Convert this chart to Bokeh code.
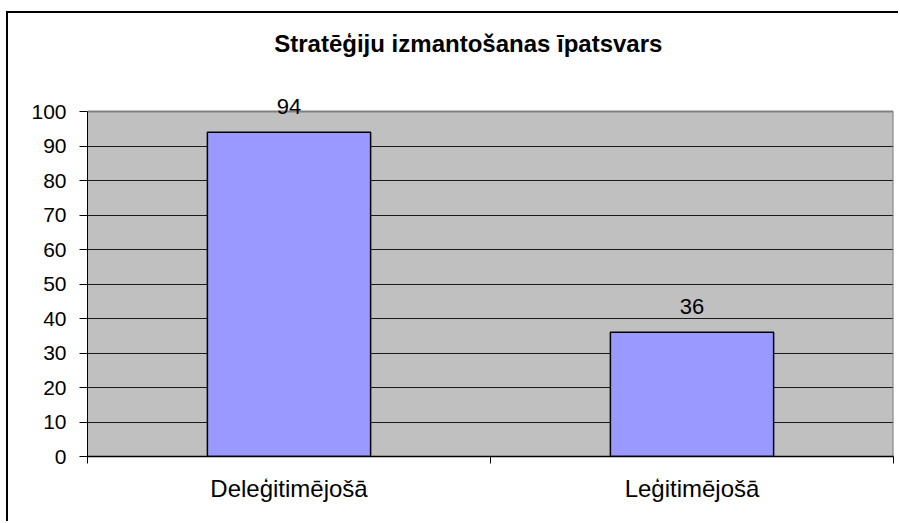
from bokeh.plotting import figure
from bokeh.models import (Range1d, FixedTicker, ColumnDataSource, LabelSet, Label,
                          BoxAnnotation)
from bokeh.core.properties import value
from bokeh.embed import file_html
from bokeh.resources import INLINE

# ---- data ----
categories = ["Deleģitimējošā", "Leģitimējošā"]
values = [94, 36]
y_ticks = [0, 10, 20, 30, 40, 50, 60, 70, 80, 90, 100]
title_text = "Stratēģiju izmantošanas īpatsvars"

FONT = "Liberation Sans"
n = len(categories)
y_max = y_ticks[-1]

xs = [i + 0.5 for i in range(n)]
src = ColumnDataSource(dict(x=xs, top=values, label=[str(v) for v in values]))

# plot area 345px tall for 0..100 -> extend the range upward to leave room for title
px_per_unit = 345 / y_max
y_top = 443 / px_per_unit

p = figure(width=892, height=510, output_backend="svg", toolbar_location=None,
           x_range=Range1d(0, n), y_range=Range1d(0, y_top),
           min_border_left=79, min_border_right=7, min_border_top=0,
           min_border_bottom=67)
p.styles = {"margin-left": "6px", "margin-top": "11px",
            "border-left": "2px solid black", "border-top": "2px solid black"}

p.background_fill_color = "white"
p.border_fill_color = "white"
p.outline_line_color = None

# plot-area background (0..100)
p.add_layout(BoxAnnotation(left=0, right=n, bottom=0, top=y_max,
                           fill_color="#C0C0C0", fill_alpha=1,
                           line_color=None, level="image"))

# grid
p.xgrid.grid_line_color = None
p.ygrid.ticker = FixedTicker(ticks=y_ticks[:-1])
p.ygrid.grid_line_color = "#1a1a1a"
p.ygrid.grid_line_width = 1

# plot-area border (top and right)
p.segment(x0=[0, n], y0=[y_max, 0], x1=[n, n], y1=[y_max, y_max],
          line_color="#808080", line_width=2)

# bars
p.vbar(x="x", top="top", width=0.405, bottom=0, source=src,
       fill_color="#9999FF", line_color="black", line_width=1.5)

# y axis
yax = p.yaxis[0]
yax.ticker = FixedTicker(ticks=y_ticks)
yax.bounds = (0, y_max)
yax.axis_line_color = "black"
yax.axis_line_width = 1
yax.major_tick_in = 0
yax.major_tick_out = 8
yax.minor_tick_line_color = None
yax.major_label_text_font = FONT
yax.major_label_text_font_size = "21px"
yax.major_label_text_color = "black"
yax.major_label_standoff = 13

# x axis: labels at centres, ticks at category boundaries
xax = p.xaxis[0]
xax.ticker = FixedTicker(ticks=xs, minor_ticks=list(range(n + 1)))
xax.major_label_overrides = {x: c for x, c in zip(xs, categories)}
xax.major_tick_in = 0
xax.major_tick_out = 0
xax.minor_tick_in = 0
xax.minor_tick_out = 7
xax.minor_tick_line_color = "black"
xax.axis_line_color = "black"
xax.axis_line_width = 1.5
xax.major_label_text_font = FONT
xax.major_label_text_font_size = "24px"
xax.major_label_text_color = "black"
xax.major_label_standoff = 11

# value labels
labels = LabelSet(x="x", y="top", text="label", source=src, y_offset=18,
                  text_align="center", text_baseline="alphabetic",
                  text_font=value(FONT), text_font_size=value("22px"),
                  text_color="black")
p.add_layout(labels)

# title
p.add_layout(Label(x=0.945, y=(456 - 43) / px_per_unit,
                   text=title_text, text_font=FONT, text_font_size="24px",
                   text_font_style="bold", text_align="center",
                   text_baseline="alphabetic", text_color="black"))

open("out.html", "w").write(file_html(p, INLINE))
